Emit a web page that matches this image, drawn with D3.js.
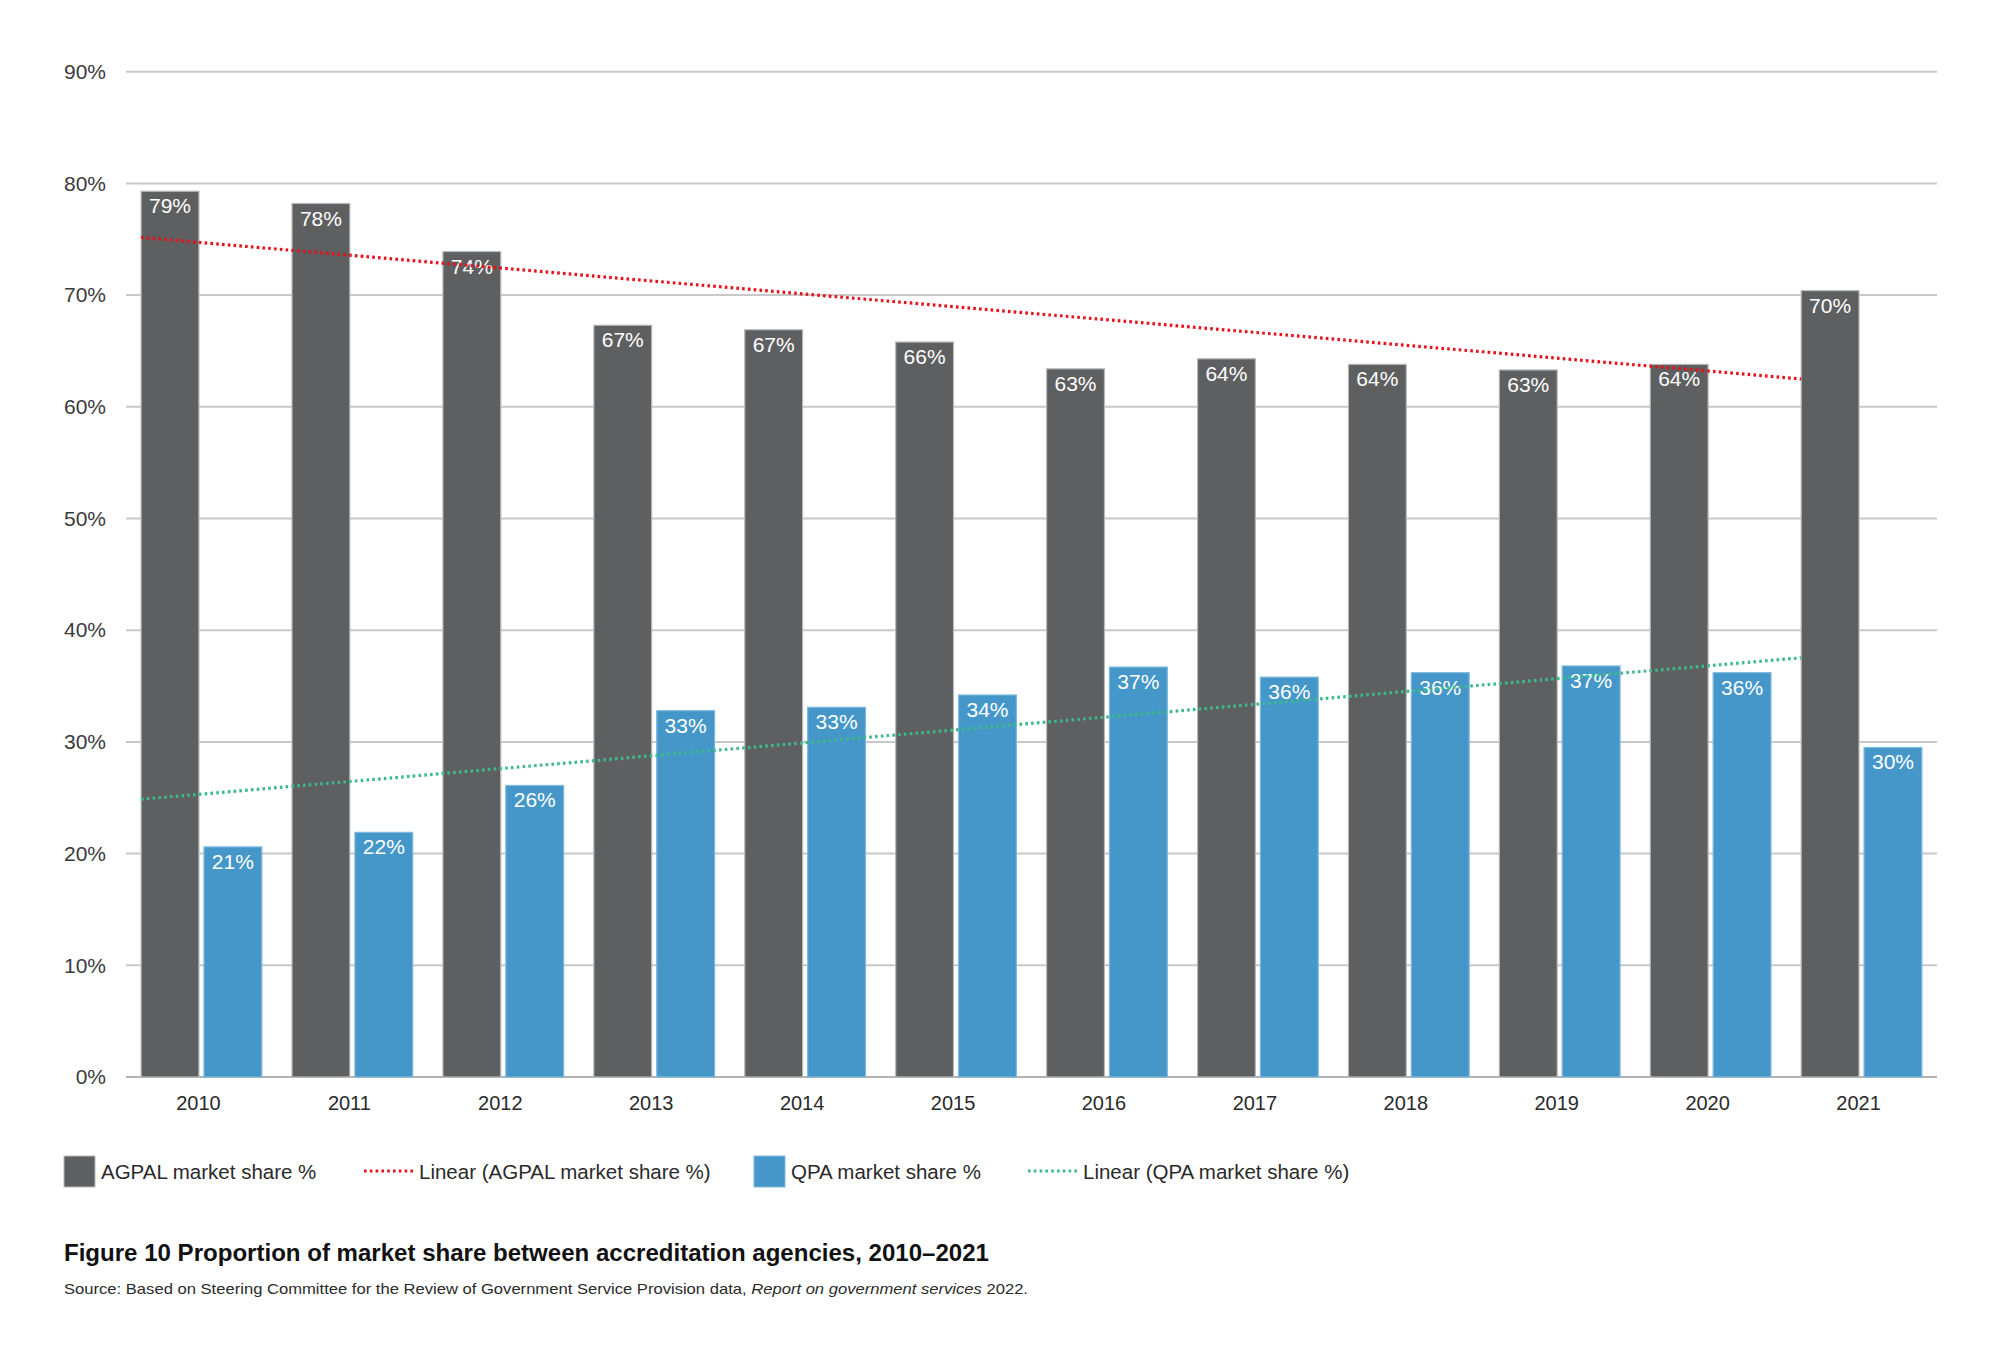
<!DOCTYPE html>
<html>
<head>
<meta charset="utf-8">
<script src="https://cdn.jsdelivr.net/npm/d3@7"></script>
<style>
  html, body { margin: 0; padding: 0; background: #fff; }
  svg text { font-family: "Liberation Sans", Arial, Helvetica, sans-serif; }
</style>
</head>
<body>
<svg id="chart" width="2000" height="1361"></svg>
<script>
// data
const years = ["2010","2011","2012","2013","2014","2015","2016","2017","2018","2019","2020","2021"];
const agpal = [79.3, 78.2, 73.9, 67.3, 66.9, 65.8, 63.4, 64.3, 63.8, 63.3, 63.8, 70.4];
const qpa = [20.6, 21.9, 26.1, 32.8, 33.1, 34.2, 36.7, 35.8, 36.2, 36.8, 36.2, 29.5];
const yTicks = [0, 10, 20, 30, 40, 50, 60, 70, 80, 90];
const seriesNames = ["AGPAL market share %", "QPA market share %"];
const trendNames = ["Linear (AGPAL market share %)", "Linear (QPA market share %)"];
const title = "Figure 10 Proportion of market share between accreditation agencies, 2010\u20132021";

const barColors = ["#5e5f61", "#4597c9"];
const barStroke = ["#b9b9b9", "#7fb9df"];
const trendColors = ["#e8101a", "#3dba8a"];

const svg = d3.select("#chart");

const x0 = d3.scaleBand().domain(years).range([126, 1937]).paddingInner(0.2).paddingOuter(0.1);
const x1 = d3.scaleBand().domain([0, 1]).range([0, x0.bandwidth()]).paddingInner(0.08);
const y = d3.scaleLinear().domain([0, 90]).range([1077, 71.7]);

// gridlines
svg.append("g")
  .selectAll("line")
  .data(yTicks)
  .enter()
  .append("line")
  .attr("x1", 126).attr("x2", 1937)
  .attr("y1", d => y(d)).attr("y2", d => y(d))
  .attr("stroke", d => d === 0 ? "#b3b3b3" : "#c8c8c8")
  .attr("stroke-width", 2);

// y axis labels
const axisY = d3.axisLeft(y).tickValues(yTicks).tickSize(0).tickPadding(0).tickFormat(d => d + "%");
const gy = svg.append("g").attr("transform", "translate(106,0)").call(axisY);
gy.select(".domain").remove();
gy.selectAll("text")
  .attr("font-size", 21)
  .attr("fill", "#3a3a3a")
  .attr("font-family", "Liberation Sans, Arial, sans-serif");

// x axis labels
const axisX = d3.axisBottom(x0).tickSize(0).tickPadding(0);
const gx = svg.append("g").attr("transform", "translate(-3,1096)").call(axisX);
gx.select(".domain").remove();
gx.selectAll("text")
  .attr("font-size", 20)
  .attr("fill", "#2a2a2a")
  .attr("font-family", "Liberation Sans, Arial, sans-serif");

// bars
const rows = years.map((yr, i) => ({ year: yr, vals: [agpal[i], qpa[i]] }));
const groups = svg.append("g")
  .selectAll("g")
  .data(rows)
  .enter()
  .append("g")
  .attr("transform", d => `translate(${x0(d.year)},0)`);

groups.selectAll("rect")
  .data(d => d.vals.map((v, k) => ({ k: k, v: v })))
  .enter()
  .append("rect")
  .attr("x", d => x1(d.k))
  .attr("y", d => y(d.v))
  .attr("width", x1.bandwidth())
  .attr("height", d => y(0) - y(d.v))
  .attr("fill", d => barColors[d.k])
  .attr("stroke", d => barStroke[d.k])
  .attr("stroke-width", 1.2);

// linear trend lines (least squares on index)
function fit(vals) {
  const mx = d3.mean(vals, (v, i) => i);
  const my = d3.mean(vals);
  let sxy = 0, sxx = 0;
  vals.forEach((v, i) => { sxy += (i - mx) * (v - my); sxx += (i - mx) * (i - mx); });
  const b = sxy / sxx;
  return t => my + b * (t - mx);
}
const step = x0.step();
const cx = i => x0(years[0]) + x0.bandwidth() / 2 + i * step;
[agpal, qpa].forEach((vals, k) => {
  const f = fit(vals);
  const ends = [-0.4, vals.length - 1.4];
  svg.append("path")
    .datum(ends)
    .attr("d", d3.line().x(t => cx(t)).y(t => y(f(t))))
    .attr("fill", "none")
    .attr("stroke", trendColors[k])
    .attr("stroke-width", 3.2)
    .attr("stroke-dasharray", "2.6 3.2");
});

// value labels inside bars
groups.selectAll("text.val")
  .data(d => d.vals.map((v, k) => ({ k: k, v: v })))
  .enter()
  .append("text")
  .attr("class", "val")
  .attr("x", d => x1(d.k) + x1.bandwidth() / 2)
  .attr("y", d => y(d.v) + 22)
  .attr("text-anchor", "middle")
  .attr("font-size", 21)
  .attr("fill", "#ffffff")
  .text(d => Math.round(d.v) + "%");

// legend
const legend = svg.append("g");
const legItems = [
  { type: "box", color: barColors[0], stroke: barStroke[0], label: seriesNames[0], x: 64 },
  { type: "line", color: trendColors[0], label: trendNames[0], x: 364 },
  { type: "box", color: barColors[1], stroke: barStroke[1], label: seriesNames[1], x: 754 },
  { type: "line", color: trendColors[1], label: trendNames[1], x: 1028 }
];
legItems.forEach(it => {
  if (it.type === "box") {
    legend.append("rect")
      .attr("x", it.x).attr("y", 1162 - 6).attr("width", 31).attr("height", 31)
      .attr("fill", it.color).attr("stroke", it.stroke).attr("stroke-width", 1);
    legend.append("text")
      .attr("x", it.x + 37).attr("y", 1179)
      .attr("font-size", 20.5).attr("fill", "#2a2a2a")
      .text(it.label);
  } else {
    legend.append("line")
      .attr("x1", it.x).attr("x2", it.x + 51)
      .attr("y1", 1171).attr("y2", 1171)
      .attr("stroke", it.color).attr("stroke-width", 3)
      .attr("stroke-dasharray", "2.6 3.2");
    legend.append("text")
      .attr("x", it.x + 55).attr("y", 1179)
      .attr("font-size", 20.5).attr("fill", "#2a2a2a")
      .text(it.label);
  }
});

// title and source
svg.append("text")
  .attr("x", 64).attr("y", 1261)
  .attr("font-size", 23)
  .attr("font-weight", "bold")
  .attr("fill", "#111")
  .attr("textLength", 925)
  .attr("lengthAdjust", "spacingAndGlyphs")
  .text(title);

const src = svg.append("text")
  .attr("x", 64).attr("y", 1294)
  .attr("font-size", 15)
  .attr("fill", "#2a2a2a")
  .attr("textLength", 964)
  .attr("lengthAdjust", "spacingAndGlyphs");
src.append("tspan").text("Source: Based on Steering Committee for the Review of Government Service Provision data, ");
src.append("tspan").attr("font-style", "italic").text("Report on government services");
src.append("tspan").text(" 2022.");
</script>
</body>
</html>
